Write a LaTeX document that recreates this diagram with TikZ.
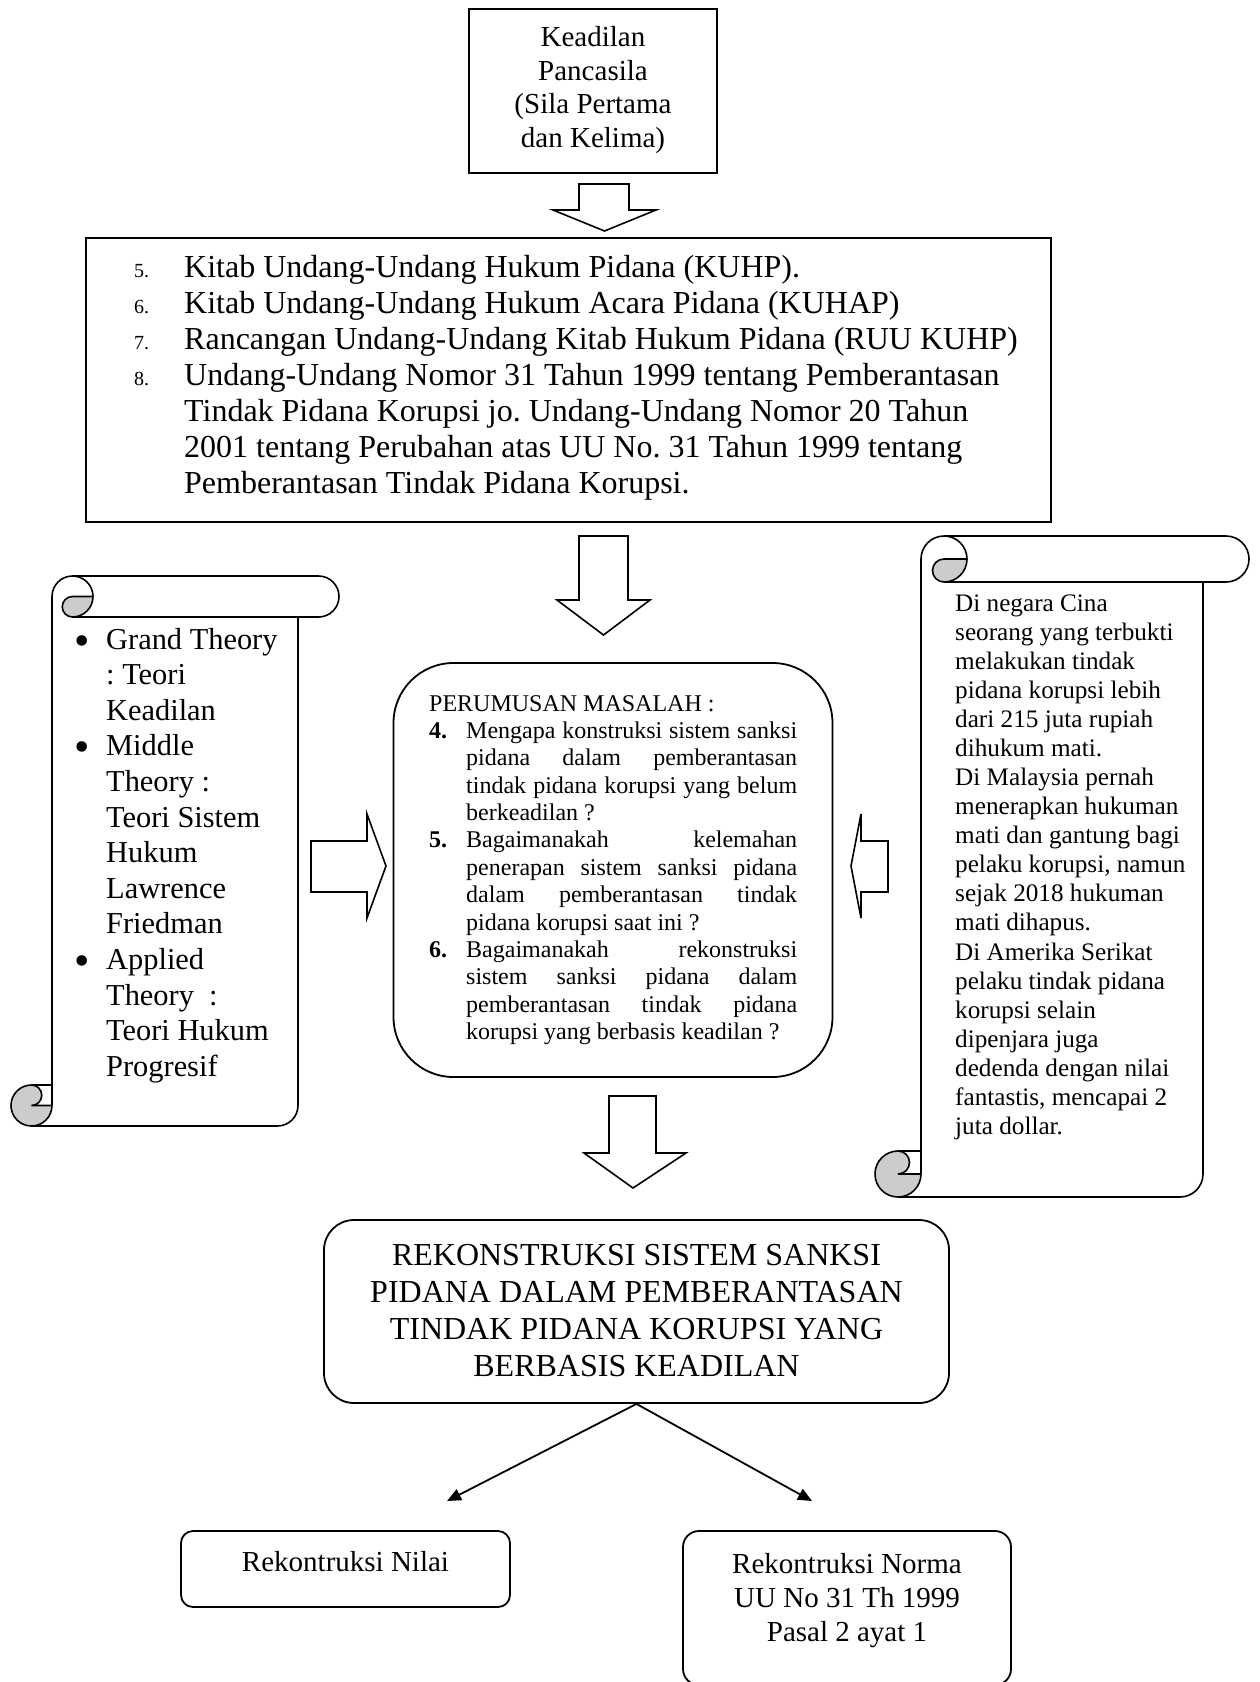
\documentclass[tikz,border=0pt]{standalone}
\usepackage{fontspec}
\setmainfont{Liberation Serif}
\usetikzlibrary{arrows.meta}
\frenchspacing
\newcommand\fTop{\fontsize{29}{34}\selectfont}
\newcommand\fBig{\fontsize{32}{36}\selectfont}
\newcommand\fNum{\fontsize{20}{24}\selectfont}
\newcommand\fLeft{\fontsize{30.4}{35}\selectfont}
\newcommand\fBul{\fontsize{44}{48}\selectfont}
\newcommand\fRight{\fontsize{25.2}{29}\selectfont}
\newcommand\fCen{\fontsize{24}{27}\selectfont}
\newcommand\fRek{\fontsize{32}{37}\selectfont}
\newcommand\fBot{\fontsize{29}{34}\selectfont}
\newcommand\myscroll[5]{%
  \pgfmathsetmacro\zzL{#1}\pgfmathsetmacro\zzT{#2}\pgfmathsetmacro\zzR{#3}\pgfmathsetmacro\zzB{#4}%
  \pgfmathsetmacro\zzH{#5/2}\pgfmathsetmacro\zzQ{#5/4}%
  \pgfmathsetmacro\zzBL{#1+#5}\pgfmathsetmacro\zzXc{#1+1.5*#5}\pgfmathsetmacro\zzXd{#1+2*#5}%
  \pgfmathsetmacro\zzXf{#3-#5}\pgfmathsetmacro\zzXg{#3-#5/2}%
  \pgfmathsetmacro\zzYc{#4-#5}\pgfmathsetmacro\zzYd{#4-#5/2}%
  \pgfmathsetmacro\zzTB{#2+#5}\pgfmathsetmacro\zzTM{#2+#5/2}\pgfmathsetmacro\zzLH{#1+#5/2}%
  \draw[scr] (\zzBL,\zzYd) -- (\zzBL,\zzTM) arc[start angle=180,end angle=270,radius=\zzH]
     -- (\zzXg,\zzT) arc[start angle=-90,end angle=90,radius=\zzH] -- (\zzXc,\zzTB);
  \draw[scr] (\zzXf,\zzTB) -- (\zzXf,\zzYd) arc[start angle=0,end angle=90,radius=\zzH] -- (\zzLH,\zzB);
  \draw[scr] (\zzXc,\zzT) arc[start angle=-90,end angle=0,radius=\zzH];
  \draw[scr,fill=gray!40] (\zzXd,\zzTM) arc[start angle=0,end angle=90,radius=\zzH]
     arc[start angle=90,end angle=270,radius=\zzQ] -- cycle;
  \draw[scr,fill=gray!40] (\zzLH,\zzYc) arc[start angle=-90,end angle=90,radius=\zzQ]
     -- (\zzBL,\zzYd) arc[start angle=0,end angle=270,radius=\zzH] -- cycle;
  \draw[scr] (\zzLH,\zzYc) -- (\zzBL,\zzYc);
}
\tikzset{
  box/.style={draw, line width=2pt, inner sep=0pt},
  rbox/.style={draw, line width=1.8pt, inner sep=0pt},
  ln/.style={inner sep=0pt, anchor=base west},
  lc/.style={inner sep=0pt, anchor=base},
  blk/.style={draw, line width=1.6pt, fill=white, line join=miter},
  scr/.style={line width=1.6pt},
  con/.style={line width=1.8pt, -{Triangle[length=14pt,width=12pt]}},
}
\begin{document}
\begin{tikzpicture}[x=1pt,y=-1pt]
\useasboundingbox (0,0) rectangle (1260,1682);
% top box
\node[box, minimum width=248pt, minimum height=164pt] (top) at (593,91) {};
\foreach \t [count=\i from 0] in {{Keadilan}, {Pancasila}, {(Sila Pertama}, {dan Kelima)}}
  \node[lc, font=\fTop] (top\i) at (593,{46.5+33.6*\i}) {\t};
% arrow 1
\draw[blk] (579,184) -- (629,184) -- (629,210) -- (656,210) -- (604.5,231) -- (553,210) -- (579,210) -- cycle;
% big box
\node[box, minimum width=965pt, minimum height=284pt] (big) at (568.5,380) {};
\foreach \n [count=\i from 0] in {5,6,7,8}
  \node[ln, font=\fNum] (bn\i) at (134,{277+36.1*\i}) {\n.};
\foreach \t [count=\i from 0] in {Kitab Undang-Undang Hukum Pidana (KUHP).,
  Kitab Undang-Undang Hukum Acara Pidana (KUHAP),
  Rancangan Undang-Undang Kitab Hukum Pidana (RUU KUHP),
  Undang-Undang Nomor 31 Tahun 1999 tentang Pemberantasan,
  Tindak Pidana Korupsi jo. Undang-Undang Nomor 20 Tahun,
  2001 tentang Perubahan atas UU No. 31 Tahun 1999 tentang,
  Pemberantasan Tindak Pidana Korupsi.}
  \node[ln, font=\fBig] (bt\i) at (184,{277+36.1*\i}) {\t};
% arrow 2
\draw[blk] (579,536) -- (628,536) -- (628,600) -- (650,600) -- (603.5,635) -- (557,600) -- (579,600) -- cycle;
% left scroll
\myscroll{11}{576}{339}{1126}{41}
\foreach \i in {0,3,9}
  \node[lc, font=\fBul] (lb\i) at (82,{655+35.6*\i}) {•};
\foreach \t [count=\i from 0] in {Grand Theory, : Teori, Keadilan, Middle, Theory :, Teori Sistem,
  Hukum, Lawrence, Friedman, Applied, Theory\ \ :, Teori Hukum, Progresif}
  \node[ln, font=\fLeft] (ls\i) at (106,{649+35.6*\i}) {\t};
% right scroll
\myscroll{875}{536}{1249}{1197}{46}
\foreach \t [count=\i from 0] in {Di negara Cina, seorang yang terbukti, melakukan tindak,
  pidana korupsi lebih, dari 215 juta rupiah, dihukum mati., Di Malaysia pernah,
  menerapkan hukuman, mati dan gantung bagi, {pelaku korupsi, namun}, sejak 2018 hukuman,
  mati dihapus., Di Amerika Serikat, pelaku tindak pidana, korupsi selain, dipenjara juga,
  dedenda dengan nilai, {fantastis, mencapai 2}, juta dollar.}
  \node[ln, font=\fRight] (rs\i) at (955,{611.2+29.07*\i}) {\t};
% side arrows
\draw[blk] (311,841) -- (367,841) -- (367,814) -- (386,866) -- (367,918) -- (367,892) -- (311,892) -- cycle;
\draw[blk] (888,841) -- (861,841) -- (861,814) -- (851,866) -- (861,918) -- (861,892) -- (888,892) -- cycle;
% centre box
\node[rbox, rounded corners=60pt, minimum width=439pt, minimum height=414pt] (cen) at (613,870) {};
\node[ln, font=\fCen] (ct) at (429,711.7) {PERUMUSAN MASALAH :};
\node[ln, font=\fCen] (cn4) at (429,738.3) {\textbf{4.}};
\node[ln, font=\fCen] (cn5) at (429,847.9) {\textbf{5.}};
\node[ln, font=\fCen] (cn6) at (429,957.5) {\textbf{6.}};
\foreach \t [count=\i from 0] in {
  \makebox[331pt][s]{Mengapa konstruksi sistem sanksi},
  \makebox[331pt][s]{pidana dalam pemberantasan},
  \makebox[331pt][s]{tindak pidana korupsi yang belum},
  berkeadilan ?,
  \makebox[331pt][s]{Bagaimanakah kelemahan},
  \makebox[331pt][s]{penerapan sistem sanksi pidana},
  \makebox[331pt][s]{dalam pemberantasan tindak},
  pidana korupsi saat ini ?,
  \makebox[331pt][s]{Bagaimanakah rekonstruksi},
  \makebox[331pt][s]{sistem sanksi pidana dalam},
  \makebox[331pt][s]{pemberantasan tindak pidana},
  korupsi yang berbasis keadilan ?}
  \node[ln, font=\fCen] (cl\i) at (466,{738.3+27.4*\i}) {\t};
% arrow 3
\draw[blk] (609,1096) -- (656,1096) -- (656,1153) -- (686,1153) -- (633,1188) -- (584,1153) -- (609,1153) -- cycle;
% reconstruction box
\node[rbox, rounded corners=30pt, minimum width=625pt, minimum height=183pt] (rek) at (636.5,1311.5) {};
\foreach \t [count=\i from 0] in {REKONSTRUKSI SISTEM SANKSI, PIDANA DALAM PEMBERANTASAN,
  TINDAK PIDANA KORUPSI YANG, BERBASIS KEADILAN}
  \node[lc, font=\fRek] (rk\i) at (636.5,{1265+37.2*\i}) {\t};
% bottom boxes
\node[rbox, rounded corners=12pt, minimum width=329pt, minimum height=76pt] (nilai) at (345.5,1569) {};
\node[lc, font=\fBot] (nilaiT) at (345.5,1571) {Rekontruksi Nilai};
\node[rbox, rounded corners=16pt, minimum width=328pt, minimum height=154pt] (norma) at (847,1608) {};
\foreach \t [count=\i from 0] in {Rekontruksi Norma, UU No 31 Th 1999, Pasal 2 ayat 1}
  \node[lc, font=\fBot] (nm\i) at (847,{1573+34*\i}) {\t};
% connectors
\coordinate (tipL) at (447,1501);
\coordinate (tipR) at (812,1501);
\draw[con] (rek.south) -- (tipL);
\draw[con] (rek.south) -- (tipR);
\end{tikzpicture}
\end{document}
